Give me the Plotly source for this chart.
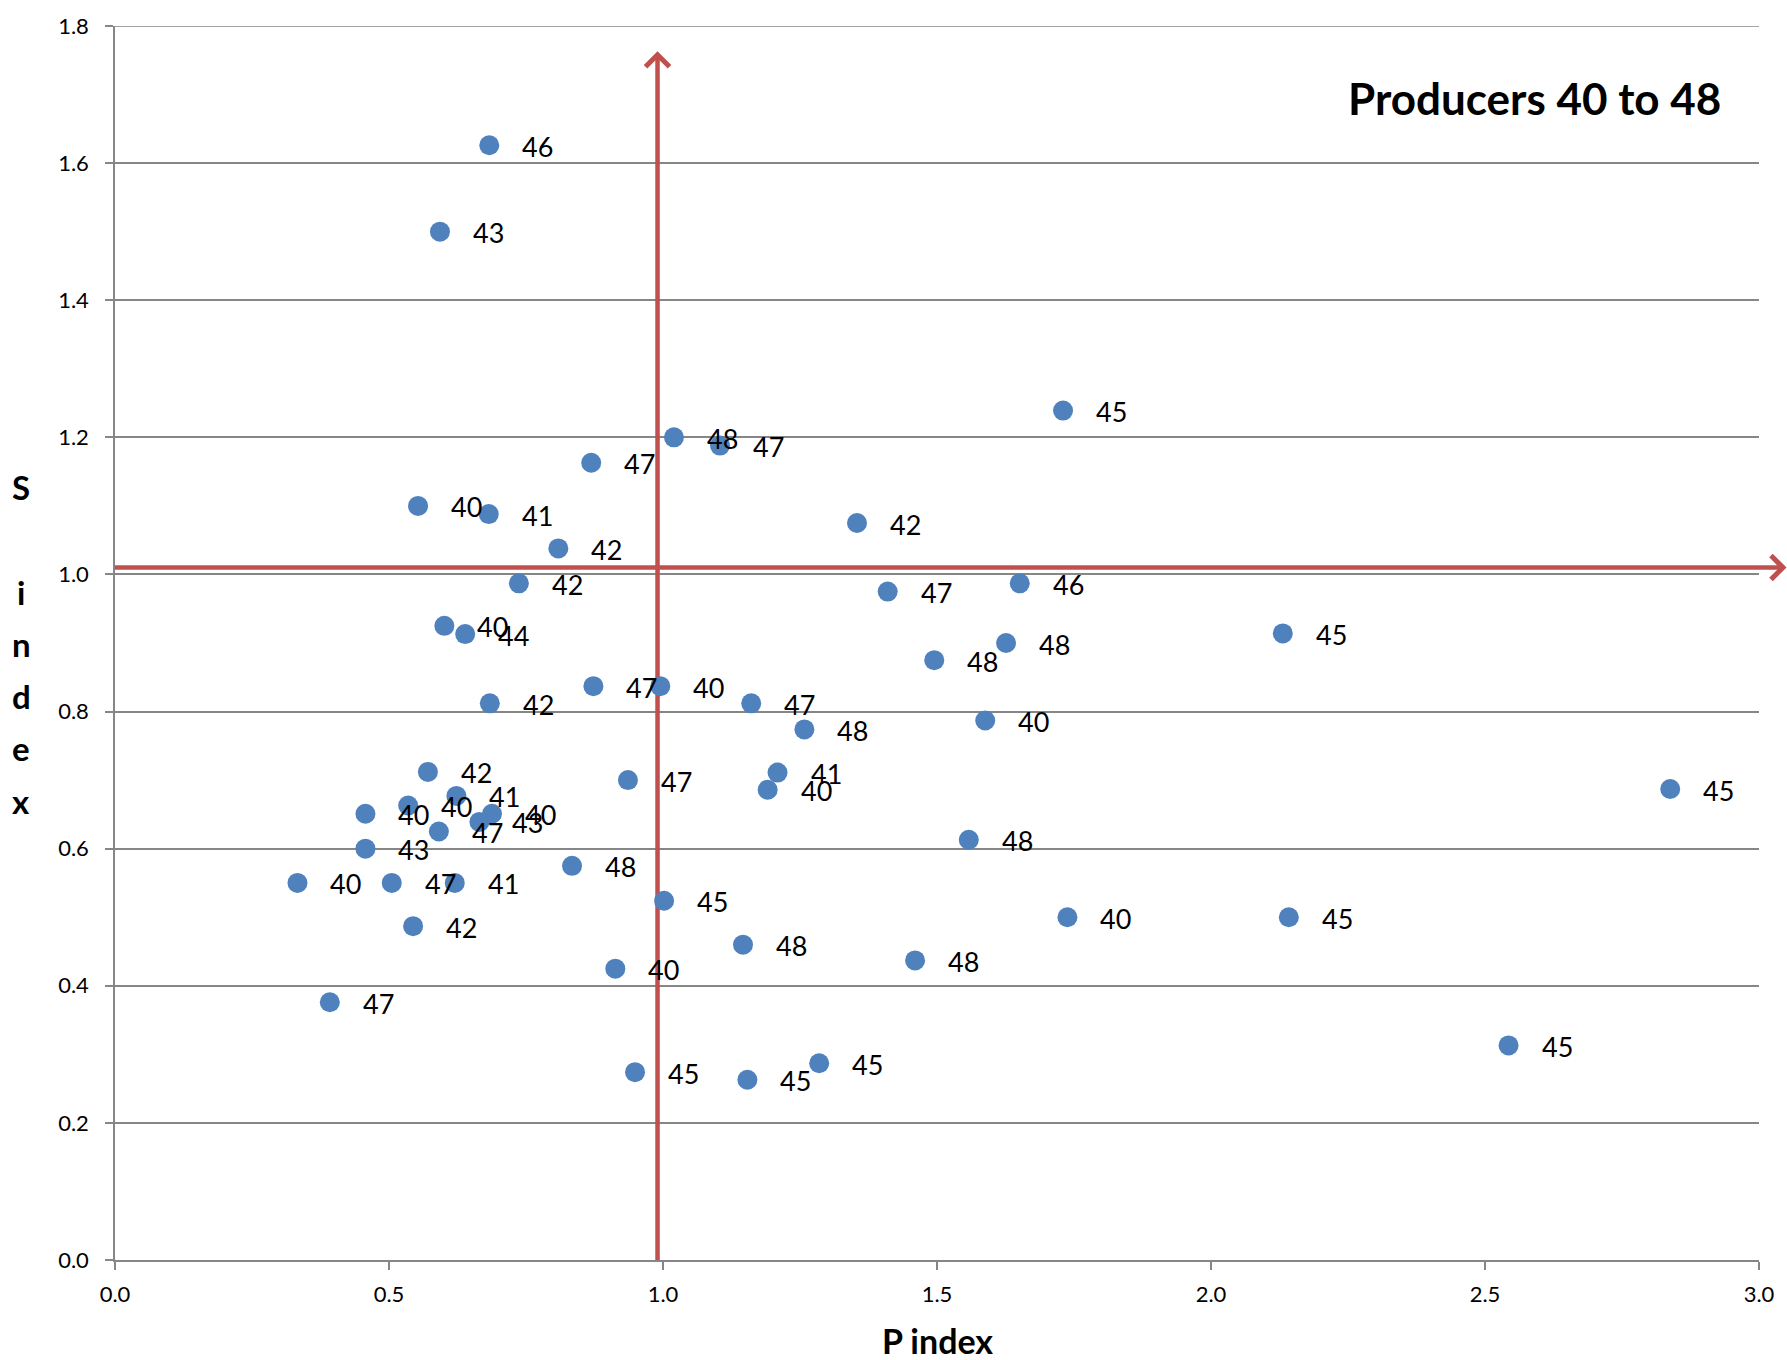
import plotly.graph_objects as go

# ---- data ----
p_index = [0.683, 0.593, 1.730, 1.020, 1.104, 0.869, 0.553, 0.682, 1.354, 0.809,
           0.737, 1.410, 1.651, 0.601, 0.639, 2.131, 1.626, 1.495, 0.873, 0.995,
           0.684, 1.161, 1.588, 1.258, 0.571, 1.209, 0.936, 1.191, 2.838, 0.623,
           0.535, 0.457, 0.688, 0.665, 0.591, 0.457, 0.333, 0.505, 0.620, 0.834,
           0.544, 1.002, 0.913, 0.392, 1.146, 0.949, 1.154, 1.285, 1.558, 1.738,
           2.142, 1.460, 2.543]
s_index = [1.626, 1.500, 1.239, 1.200, 1.188, 1.163, 1.100, 1.088, 1.075, 1.038,
           0.987, 0.975, 0.987, 0.925, 0.913, 0.914, 0.900, 0.875, 0.837, 0.837,
           0.812, 0.812, 0.787, 0.774, 0.712, 0.711, 0.700, 0.686, 0.687, 0.677,
           0.663, 0.651, 0.651, 0.639, 0.625, 0.600, 0.550, 0.550, 0.550, 0.575,
           0.487, 0.524, 0.425, 0.376, 0.460, 0.274, 0.263, 0.287, 0.613, 0.500,
           0.500, 0.437, 0.313]
producer = ["46", "43", "45", "48", "47", "47", "40", "41", "42", "42",
            "42", "47", "46", "40", "44", "45", "48", "48", "47", "40",
            "42", "47", "40", "48", "42", "41", "47", "40", "45", "41",
            "40", "40", "40", "43", "47", "43", "40", "47", "41", "48",
            "42", "45", "40", "47", "48", "45", "45", "45", "48", "40",
            "45", "48", "45"]

x_range = [0.0, 3.0]
y_range = [0.0, 1.8]
x_dtick = 0.5
y_dtick = 0.2

ref_p = 0.99          # vertical reference arrow (P index)
ref_s = 1.01          # horizontal reference arrow (S index)
arrow_top = 1.758     # tip of the vertical arrow

title_text = "Producers 40 to 48"
x_title = "P index"
y_title_letters = ["S", "i", "n", "d", "e", "x"]

# ---- style ----
W, H = 1787, 1360
ML, MR, MT, MB = 115, 27, 19, 100
PW, PH = W - ML - MR, H - MT - MB
FONT = "Lato, 'Open Sans', sans-serif"
BLUE = "#4F81BD"
RED = "#C0504D"
GRAY = "#868686"


def px_to_paper_x(px):
    return (px - ML) / PW


def px_to_paper_y(py):
    return (H - MB - py) / PH


fig = go.Figure()
fig.add_trace(go.Scatter(
    x=p_index, y=s_index, mode="markers",
    marker=dict(color=BLUE, size=20, line=dict(width=0)),
    hoverinfo="x+y+text", text=producer, showlegend=False,
))

annotations = []
# data labels to the right of each point
for xv, yv, lab in zip(p_index, s_index, producer):
    annotations.append(dict(
        x=xv, y=yv, xref="x", yref="y", text=lab, showarrow=False,
        xanchor="left", yanchor="middle", xshift=31, yshift=-1,
        font=dict(family=FONT, size=27, color="#000000"),
    ))

# chart title
annotations.append(dict(
    x=px_to_paper_x(1535), y=px_to_paper_y(91), xref="paper", yref="paper",
    text="<b>" + title_text + "</b>", showarrow=False,
    xanchor="center", yanchor="middle",
    font=dict(family=FONT, size=44, color="#000000"),
))
# x axis title
annotations.append(dict(
    x=0.5, y=px_to_paper_y(1341), xref="paper", yref="paper",
    text="<b>" + x_title + "</b>", showarrow=False,
    xanchor="center", yanchor="middle",
    font=dict(family=FONT, size=34, color="#000000"),
))
# stacked y axis title (S, blank line, i n d e x)
y_rows = [0, 2, 3, 4, 5, 6]
for letter, row in zip(y_title_letters, y_rows):
    annotations.append(dict(
        x=px_to_paper_x(21), y=px_to_paper_y(483 + 52.5 * row),
        xref="paper", yref="paper",
        text="<b>" + letter + "</b>", showarrow=False,
        xanchor="center", yanchor="middle",
        font=dict(family=FONT, size=33, color="#000000"),
    ))

tip_paper_x = px_to_paper_x(1784)
shapes = [
    # top gridline at 1.8
    dict(type="line", xref="paper", yref="y", x0=0, x1=1, y0=y_range[1], y1=y_range[1],
         line=dict(color=GRAY, width=1.5), layer="below"),
    # vertical arrow shaft
    dict(type="line", xref="x", yref="y", x0=ref_p, x1=ref_p, y0=0, y1=arrow_top - 0.003,
         line=dict(color=RED, width=4.5), layer="between"),
    # vertical arrow head
    dict(type="path", xref="x", yref="y", xsizemode="pixel", ysizemode="pixel",
         xanchor=ref_p, yanchor=arrow_top, path="M -12,-12 L 0,0 L 12,-12",
         line=dict(color=RED, width=5), fillcolor="rgba(0,0,0,0)", layer="between"),
    # horizontal arrow shaft
    dict(type="line", xref="paper", yref="y", x0=0, x1=tip_paper_x - 0.002, y0=ref_s, y1=ref_s,
         line=dict(color=RED, width=4.5), layer="between"),
    # horizontal arrow head
    dict(type="path", xref="paper", yref="y", xsizemode="pixel", ysizemode="pixel",
         xanchor=tip_paper_x, yanchor=ref_s, path="M -12,12 L 0,0 L -12,-12",
         line=dict(color=RED, width=5), fillcolor="rgba(0,0,0,0)", layer="between"),
]

fig.update_layout(
    width=W, height=H,
    margin=dict(l=ML, r=MR, t=MT, b=MB, pad=0),
    paper_bgcolor="white", plot_bgcolor="white",
    font=dict(family=FONT, color="#000000"),
    showlegend=False,
    annotations=annotations,
    shapes=shapes,
    xaxis=dict(
        range=x_range, dtick=x_dtick, tick0=0, tickformat=".1f",
        showgrid=False, zeroline=False,
        showline=True, linecolor=GRAY, linewidth=1.5,
        ticks="outside", ticklen=8, tickwidth=1.5, tickcolor=GRAY,
        tickfont=dict(family=FONT, size=22, color="#000000"),
        ticklabelstandoff=6,
    ),
    yaxis=dict(
        range=y_range, dtick=y_dtick, tick0=0, tickformat=".1f",
        showgrid=True, gridcolor=GRAY, gridwidth=1.5,
        zeroline=False,
        showline=True, linecolor=GRAY, linewidth=1.5,
        ticks="outside", ticklen=8, tickwidth=1.5, tickcolor=GRAY,
        tickfont=dict(family=FONT, size=22, color="#000000"),
        ticklabelstandoff=12,
    ),
)

fig.write_html("out.html", config={"displayModeBar": False},
               post_script="document.body.style.margin='0px';")
